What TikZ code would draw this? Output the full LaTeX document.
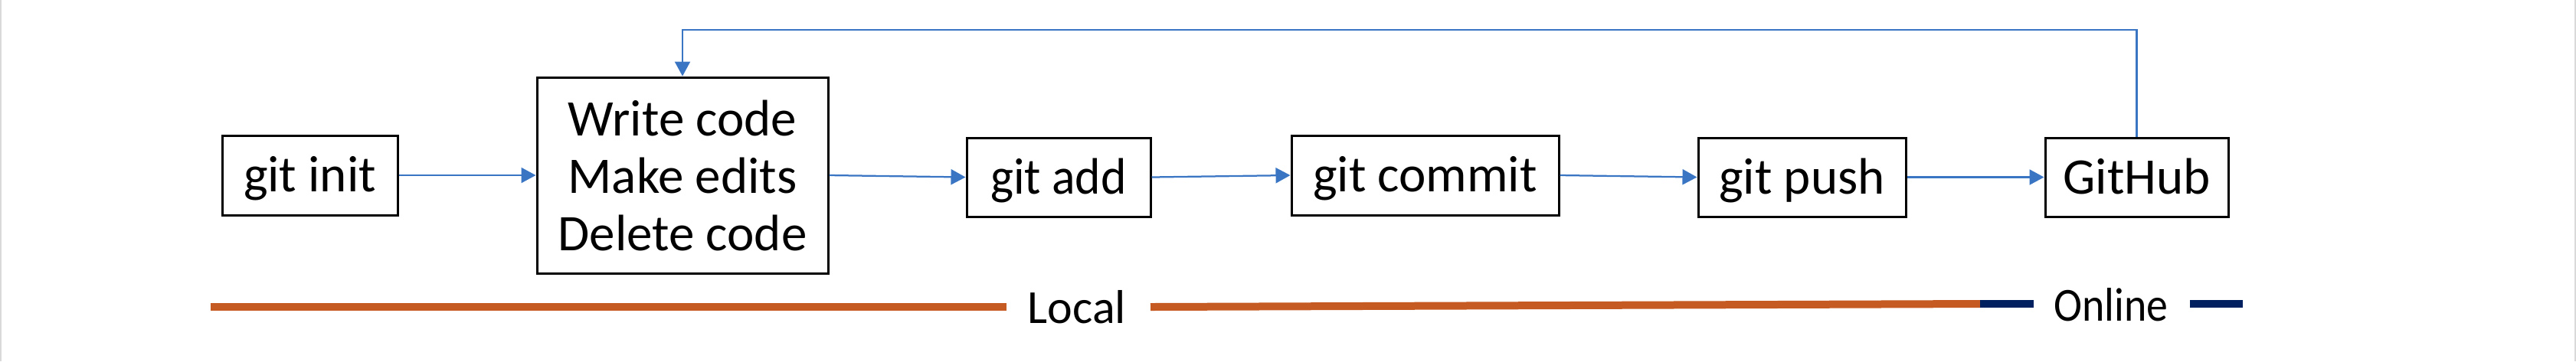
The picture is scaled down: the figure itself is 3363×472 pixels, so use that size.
\documentclass[tikz,border=0pt]{standalone}
\usepackage{fontspec}
\setmainfont{Carlito}
\usetikzlibrary{arrows.meta}
\definecolor{flowblue}{HTML}{3A75C4}
\definecolor{localorange}{HTML}{C55A22}
\definecolor{onlinenavy}{HTML}{002060}
\definecolor{edgegray}{HTML}{D9D9D9}
\tikzset{
  stepbox/.style={draw=black, line width=0.6pt, fill=white, align=center, inner sep=0pt,
    font=\fontsize{13.4}{15}\selectfont},
  onebox/.style={stepbox, text height=8.6pt, text depth=0pt},
  flow/.style={draw=flowblue, line width=0.45pt, -{Triangle[length=3.8pt,width=4pt]}},
  localbar/.style={draw=localorange, line width=2pt},
  onlinebar/.style={draw=onlinenavy, line width=2pt},
  barlabel/.style={font=\fontsize{12.4}{14}\selectfont, inner sep=0pt}
}
\begin{document}
\begin{tikzpicture}[x=0.2pt, y=-0.2pt]
\useasboundingbox (0,0) rectangle (3363,472);
\draw[edgegray, line width=0.4pt] (1,0) -- (1,472);
\draw[edgegray, line width=0.4pt] (3362,0) -- (3362,472);

\node[onebox, minimum width=45.8pt, minimum height=20.8pt] (init) at (404.5,229) {git init};
\node[stepbox, minimum width=76pt, minimum height=51.2pt] (write) at (891,229) {Write code\\Make edits\\Delete code};
\node[onebox, minimum width=48pt, minimum height=20.6pt] (add) at (1382,231.5) {\scalebox{0.95}[1]{git add}};
\node[onebox, minimum width=69.8pt, minimum height=20.8pt] (commit) at (1860.5,229) {git commit};
\node[onebox, minimum width=54.2pt, minimum height=20.6pt] (push) at (2352.5,231.5) {git push};
\node[onebox, minimum width=47.8pt, minimum height=20.6pt] (github) at (2789.5,231.5) {GitHub};

\draw[flow] (init) -- (write);
\draw[flow] (write.east) -- (add.west);
\draw[flow] (add.east) -- (commit.west);
\draw[flow] (commit.east) -- (push.west);
\draw[flow] (push) -- (github);
\coordinate (top) at (891,39);
\draw[flow] (github.north) |- (top) -- (write.north);

% location bar
\node[barlabel] (local) at (1406,401) {Local};
\node[barlabel] (online) at (2756,398) {\scalebox{0.9}[1]{Online}};
\coordinate (l0) at (275,401);
\coordinate (l1) at (1314,401);
\coordinate (l2) at (1502,401);
\coordinate (l3) at (2585,397);
\coordinate (o1) at (2655,397);
\coordinate (o2) at (2859,397);
\coordinate (o3) at (2928,397);
\draw[localbar] (l0) -- (l1);
\draw[localbar] (l2) -- (l3);
\draw[onlinebar] (l3) -- (o1);
\draw[onlinebar] (o2) -- (o3);
\end{tikzpicture}
\end{document}
